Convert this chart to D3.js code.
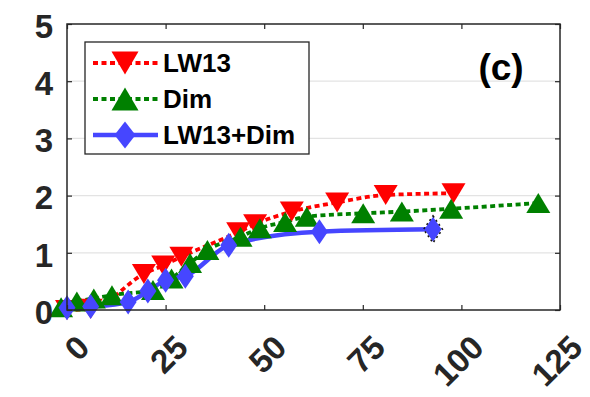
<!DOCTYPE html>
<html>
<head>
<meta charset="utf-8">
<script src="https://cdn.jsdelivr.net/npm/d3@7"></script>
<style>
  html, body { margin: 0; padding: 0; background: #fff; }
  svg { display: block; }
  text { font-family: "Liberation Sans", Arial, sans-serif; font-weight: bold; fill: #262626; }
</style>
</head>
<body>
<svg id="chart" width="590" height="397"></svg>
<script>
// Series: x = time, y = measured value
const lw13X = [0, 6, 19.5, 24.4, 29, 43.4, 47.7, 57, 68.5, 80.8, 98];
const lw13Y = [0.0, 0.02, 0.63, 0.78, 0.93, 1.36, 1.5, 1.72, 1.88, 2.01, 2.04];

const dimX = [-1.5, 2.5, 6.8, 11.4, 21.8, 26.5, 31.2, 35.6, 44, 48.9, 55.3, 60.8, 75.1, 84.9, 97.4, 119.5];
const dimY = [0.05, 0.15, 0.2, 0.26, 0.35, 0.55, 0.82, 1.05, 1.28, 1.43, 1.54, 1.63, 1.69, 1.72, 1.77, 1.87];

const bothX = [0, 6, 15.5, 20.5, 25, 30, 41, 64, 92.8];
const bothY = [0.04, 0.06, 0.14, 0.33, 0.52, 0.59, 1.13, 1.37, 1.41];

const seriesNames = ["LW13", "Dim", "LW13+Dim"];
const xTicks = [0, 25, 50, 75, 100, 125];
const yTicks = [0, 1, 2, 3, 4, 5];
const panelLabel = "(c)";

const svg = d3.select("#chart");
const plot = { left: 67, right: 560, top: 24, bottom: 310 };

const x = d3.scaleLinear().domain([0, 125]).range([plot.left, plot.right]);
const y = d3.scaleLinear().domain([0, 5]).range([plot.bottom, plot.top]);

const zip = (xs, ys) => xs.map((v, i) => ({ x: v, y: ys[i] }));
const series = [
  { name: seriesNames[0], data: zip(lw13X, lw13Y), color: "#ff0000", dash: "5,3.5", width: 3.8, marker: "down" },
  { name: seriesNames[1], data: zip(dimX, dimY), color: "#008000", dash: "5,3.5", width: 3.8, marker: "up" },
  { name: seriesNames[2], data: zip(bothX, bothY), color: "#4646ff", dash: null, width: 4.5, marker: "diamond" }
];

// Marker outlines, centred on the data point
const markerPath = {
  down: "M-12,-10L12,-10L0,10Z",
  up: "M0,-10L12,10L-12,10Z",
  diamond: "M0,-12.5L8.5,0L0,12.5L-8.5,0Z"
};
// Slightly larger markers for the legend
const legendMarkerPath = {
  down: "M-13.5,-11.5L13.5,-11.5L0,11.5Z",
  up: "M0,-11.5L13.5,11.5L-13.5,11.5Z",
  diamond: "M0,-13.5L10.5,0L0,13.5L-10.5,0Z"
};

// Horizontal grid
svg.append("g")
  .selectAll("line")
  .data(yTicks.filter(t => t > 0 && t < 5))
  .join("line")
  .attr("x1", plot.left).attr("x2", plot.right)
  .attr("y1", d => y(d)).attr("y2", d => y(d))
  .attr("stroke", "#e3e3e3").attr("stroke-width", 1.2);

// Lines
const line = d3.line().x(d => x(d.x)).y(d => y(d.y)).curve(d3.curveMonotoneX);
series.forEach(s => {
  svg.append("path")
    .attr("d", line(s.data))
    .attr("fill", "none")
    .attr("stroke", s.color)
    .attr("stroke-width", s.width)
    .attr("stroke-dasharray", s.dash)
    .attr("stroke-linejoin", "round");
});

// Markers
series.forEach(s => {
  svg.append("g")
    .selectAll("path")
    .data(s.data)
    .join("path")
    .attr("d", markerPath[s.marker])
    .attr("transform", d => `translate(${x(d.x)},${y(d.y)})`)
    .attr("fill", s.color);
});

// Dotted outline on the last combined point
const lastBoth = series[2].data[series[2].data.length - 1];
svg.append("path")
  .attr("d", "M0,-13.5L9.5,0L0,13.5L-9.5,0Z")
  .attr("transform", `translate(${x(lastBoth.x)},${y(lastBoth.y)})`)
  .attr("fill", "none")
  .attr("stroke", "#111")
  .attr("stroke-width", 1.5)
  .attr("stroke-dasharray", "2,3");

// Axes box with inward ticks
const axisColor = "#262626";
svg.append("rect")
  .attr("x", plot.left).attr("y", plot.top)
  .attr("width", plot.right - plot.left).attr("height", plot.bottom - plot.top)
  .attr("fill", "none").attr("stroke", axisColor).attr("stroke-width", 1.5);

const tickLen = 5;
const bottomAxis = d3.axisBottom(x).tickValues(xTicks).tickSize(-tickLen).tickFormat("");
const topAxis = d3.axisTop(x).tickValues(xTicks).tickSize(-tickLen).tickFormat("");
const leftAxis = d3.axisLeft(y).tickValues(yTicks).tickSize(-tickLen).tickFormat("");
const rightAxis = d3.axisRight(y).tickValues(yTicks).tickSize(-tickLen).tickFormat("");

[[bottomAxis, `translate(0,${plot.bottom})`], [topAxis, `translate(0,${plot.top})`],
 [leftAxis, `translate(${plot.left},0)`], [rightAxis, `translate(${plot.right},0)`]].forEach(([ax, tr]) => {
  const g = svg.append("g").attr("transform", tr).call(ax);
  g.select(".domain").remove();
  g.selectAll(".tick line").attr("stroke", axisColor).attr("stroke-width", 1.2);
});

// Y tick labels
svg.append("g")
  .selectAll("text")
  .data(yTicks)
  .join("text")
  .attr("x", plot.left - 14)
  .attr("y", d => y(d) + 2)
  .attr("dy", "0.36em")
  .attr("text-anchor", "end")
  .attr("font-size", 33)
  .text(d => d);

// X tick labels, rotated
svg.append("g")
  .selectAll("text")
  .data(xTicks)
  .join("text")
  .attr("transform", d => `translate(${x(d) + 16},${plot.bottom + 31}) rotate(-45)`)
  .attr("text-anchor", "end")
  .attr("dy", "0.36em")
  .attr("font-size", 33)
  .text(d => d);

// Panel label
svg.append("text")
  .attr("x", 501).attr("y", 80)
  .attr("text-anchor", "middle")
  .attr("font-size", 37)
  .style("fill", "#000")
  .text(panelLabel);

// Legend
const legend = svg.append("g");
legend.append("rect")
  .attr("x", 85).attr("y", 42).attr("width", 224).attr("height", 112)
  .attr("fill", "#fff").attr("stroke", axisColor).attr("stroke-width", 1.3);

series.forEach((s, i) => {
  const cy = 63 + i * 36;
  const row = legend.append("g");
  row.append("line")
    .attr("x1", 93).attr("x2", 158).attr("y1", cy).attr("y2", cy)
    .attr("stroke", s.color).attr("stroke-width", s.width)
    .attr("stroke-dasharray", s.dash);
  row.append("path")
    .attr("d", legendMarkerPath[s.marker])
    .attr("transform", `translate(125,${cy})`)
    .attr("fill", s.color);
  row.append("text")
    .attr("x", 163).attr("y", cy)
    .attr("dy", "0.36em")
    .attr("font-size", 26)
    .style("fill", "#000")
    .text(s.name);
});
</script>
</body>
</html>
